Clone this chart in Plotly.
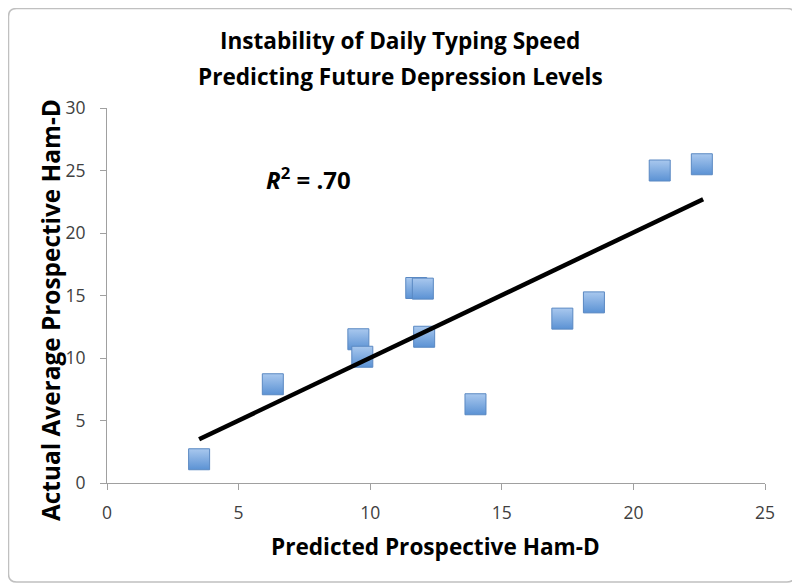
import plotly.graph_objects as go

# Data
predicted = [3.5, 6.3, 9.55, 9.7, 11.75, 12.0, 12.05, 14.0, 17.3, 18.5, 21.0, 22.6]
actual = [1.9, 7.9, 11.5, 10.1, 15.6, 15.55, 11.7, 6.3, 13.15, 14.45, 25.0, 25.5]
trend_x = [3.5, 22.65]
trend_y = [3.5, 22.7]
x_ticks = [0, 5, 10, 15, 20, 25]
y_ticks = [0, 5, 10, 15, 20, 25, 30]

FONT = "Open Sans, sans-serif"

# page body has an 8px margin: lay out in screen pixels, then shift
OFF = 8
FW, FH = 800 - OFF, 588 - OFF
L, R, T, B = 107 - OFF, 765 - OFF, 108 - OFF, 483 - OFF
W, H = R - L, B - T


def px(xs):  # screen x -> paper
    return (xs - OFF - L) / W


def py(ys):  # screen y -> paper
    return (B - (ys - OFF)) / H


fig = go.Figure()
fig.add_trace(go.Scatter(
    x=predicted, y=actual, mode="markers",
    marker=dict(symbol="square", size=21, color="#a9c8ee",
                gradient=dict(type="vertical", color="#5b92d4"),
                line=dict(color="#5a88c2", width=1)),
    showlegend=False, hoverinfo="x+y"))
fig.add_trace(go.Scatter(
    x=trend_x, y=trend_y, mode="lines",
    line=dict(color="black", width=4.5), showlegend=False))

fig.add_annotation(x=7.64, y=24.4, xref="x", yref="y", showarrow=False,
                   text="<b><i>R</i><sup>2</sup> = .70</b>",
                   font=dict(family=FONT, size=24, color="black"))

# Title lines
fig.add_annotation(x=px(400), y=py(41), xref="paper", yref="paper", showarrow=False,
                   xanchor="center", yanchor="middle",
                   text="<b>Instability of Daily Typing Speed</b>",
                   font=dict(family=FONT, size=22.6, color="black"))
fig.add_annotation(x=px(400), y=py(76), xref="paper", yref="paper", showarrow=False,
                   xanchor="center", yanchor="middle",
                   text="<b>Predicting Future Depression Levels</b>",
                   font=dict(family=FONT, size=22.6, color="black"))
# Axis titles
fig.add_annotation(x=px(435), y=py(546), xref="paper", yref="paper", showarrow=False,
                   xanchor="center", yanchor="middle",
                   text="<b>Predicted Prospective Ham-D</b>",
                   font=dict(family=FONT, size=22.6, color="black"))
fig.add_annotation(x=px(50), y=py(310), xref="paper", yref="paper", showarrow=False,
                   xanchor="center", yanchor="middle", textangle=-90,
                   text="<b>Actual Average Prospective Ham-D</b>",
                   font=dict(family=FONT, size=24.4, color="black"))

# Rounded border around chart
x0, x1, y0, y1, r = 8.5, 795, 8.5, 582, 8
path = (f"M {px(x0+r)},{py(y0)} L {px(x1-r)},{py(y0)} Q {px(x1)},{py(y0)} {px(x1)},{py(y0+r)} "
        f"L {px(x1)},{py(y1-r)} Q {px(x1)},{py(y1)} {px(x1-r)},{py(y1)} "
        f"L {px(x0+r)},{py(y1)} Q {px(x0)},{py(y1)} {px(x0)},{py(y1-r)} "
        f"L {px(x0)},{py(y0+r)} Q {px(x0)},{py(y0)} {px(x0+r)},{py(y0)} Z")
fig.add_shape(type="path", path=path, xref="paper", yref="paper",
              line=dict(color="#c0c0c0", width=1.5))

fig.update_layout(
    width=FW, height=FH,
    margin=dict(l=L, r=FW - R, t=T, b=FH - B),
    paper_bgcolor="white", plot_bgcolor="white",
    font=dict(family=FONT),
)
fig.update_xaxes(range=[0, 25], tickvals=x_ticks, showgrid=False, zeroline=False,
                 showline=True, linecolor="#a0a0a0", linewidth=1,
                 ticks="outside", ticklen=6, tickcolor="#a0a0a0",
                 ticklabelstandoff=8,
                 tickfont=dict(family=FONT, size=17.5, color="#404040"))
fig.update_yaxes(range=[0, 30], tickvals=y_ticks, showgrid=False, zeroline=False,
                 showline=True, linecolor="#a0a0a0", linewidth=1,
                 ticks="outside", ticklen=6, tickcolor="#a0a0a0",
                 ticklabelstandoff=11,
                 tickfont=dict(family=FONT, size=17.5, color="#404040"))

fig.write_html("out.html")
